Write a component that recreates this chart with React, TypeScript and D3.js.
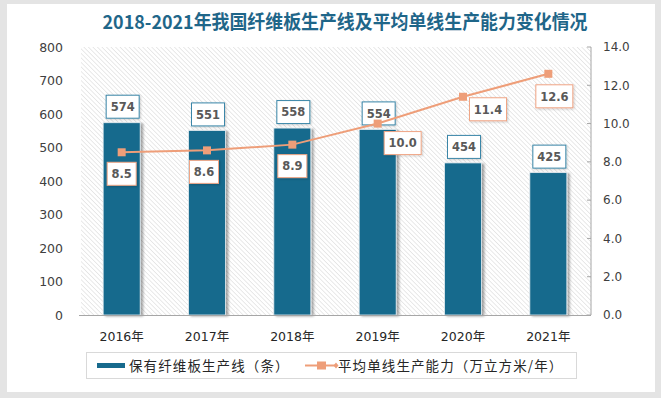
import React, { useEffect } from "react";
import * as d3 from "d3";

const years = ["2016年", "2017年", "2018年", "2019年", "2020年", "2021年"];
const lineCounts = [574, 551, 558, 554, 454, 425];
const avgCapacity = [8.5, 8.6, 8.9, 10.0, 11.4, 12.6];
const leftTicks = [0, 100, 200, 300, 400, 500, 600, 700, 800];
const rightTicks = [0, 2, 4, 6, 8, 10, 12, 14];
const barSeriesName = "保有纤维板生产线（条）";
const lineSeriesName = "平均单线生产能力（万立方米/年）";
const title = "2018-2021年我国纤维板生产线及平均单线生产能力变化情况";

// label placement offsets for the line labels (layout only)
const lineLabelOffsets: [number, number][] = [
  [0, 10], [-3, 10], [0, 10], [25, 8], [25, 1], [6, 11],
];

const W = 661, H = 398;
const M = { left: 79, right: 591, top: 47, bottom: 315 };
const BAR = "#176a8d";
const LINE = "#ee9e79";
const NUMFONT = "'DejaVu Sans', 'Noto Sans CJK SC', sans-serif";
const CJK = "'Noto Sans CJK SC', sans-serif";

export default function App() {
  useEffect(() => {
    document.body.style.margin = "0";
  }, []);

  const x = d3.scaleBand<string>().domain(years).range([M.left, M.right]).paddingInner(0.566).paddingOuter(0.283);
  const yL = d3.scaleLinear().domain([0, 800]).range([M.bottom, M.top]);
  const yR = d3.scaleLinear().domain([0, 14]).range([M.bottom, M.top]);
  const cx = (d: string) => (x(d) as number) + x.bandwidth() / 2;

  const linePath = d3.line<number>().x((_, i) => cx(years[i])).y((v) => yR(v))(avgCapacity) || "";

  return (
    <svg width={W} height={H} style={{ position: "absolute", left: 0, top: 0, display: "block" }}>
      <defs>
        <pattern id="hatch" width="3.2" height="3.2" patternUnits="userSpaceOnUse" patternTransform="rotate(-45)">
          <line x1="0" y1="0" x2="0" y2="3.2" stroke="#d4d4d4" strokeWidth="1" />
        </pattern>
        <filter id="shadow" x="-20%" y="-20%" width="150%" height="150%">
          <feDropShadow dx="2.5" dy="1" stdDeviation="1.2" floodColor="#000" floodOpacity="0.35" />
        </filter>
        <filter id="shadowS" x="-20%" y="-20%" width="150%" height="150%">
          <feDropShadow dx="1" dy="1" stdDeviation="0.8" floodColor="#000" floodOpacity="0.2" />
        </filter>
        <clipPath id="legclip">
          <rect x={86} y={352} width={490} height={27} />
        </clipPath>
      </defs>
      <rect x={0} y={0} width={W} height={H} fill="#e4e4e4" />
      <rect x={7} y={4} width={648} height={388} fill="#ffffff" />

      <text x={345} y={29} textAnchor="middle" fontFamily={CJK} fontWeight="bold" fontSize={19}
        textLength={485} lengthAdjust="spacingAndGlyphs" fill="#1f6689">{title}</text>

      <rect x={M.left + 2} y={M.top} width={M.right - M.left - 2} height={M.bottom - M.top} fill="url(#hatch)" />

      {leftTicks.map((t) => (
        <text key={"l" + t} x={63} y={yL(t)} dy="0.36em" textAnchor="end" fontFamily={NUMFONT} fontSize={12.5} fill="#404040">{t}</text>
      ))}
      {rightTicks.map((t) => (
        <g key={"r" + t}>
          <line x1={M.right - 4} x2={M.right} y1={yR(t)} y2={yR(t)} stroke="#a6a6a6" />
          <text x={603} y={yR(t)} dy="0.36em" fontFamily={NUMFONT} fontSize={12} fill="#404040">{d3.format(".1f")(t)}</text>
        </g>
      ))}
      <line x1={M.right} x2={M.right} y1={M.top} y2={M.bottom} stroke="#a6a6a6" />

      {years.map((yr, i) => (
        <rect key={"b" + yr} x={x(yr)} y={yL(lineCounts[i])} width={x.bandwidth()} height={M.bottom - yL(lineCounts[i])}
          fill={BAR} stroke="#e8eef2" strokeWidth={0.8} filter="url(#shadow)" />
      ))}
      <line x1={M.left} x2={M.right} y1={M.bottom + 0.5} y2={M.bottom + 0.5} stroke="#a6a6a6" />

      {years.map((yr, i) => (
        <text key={"x" + yr} x={cx(yr)} y={336} dy="0.36em" textAnchor="middle" fontFamily={NUMFONT} fontSize={12.5} fill="#262626">{yr}</text>
      ))}

      {years.map((yr, i) => {
        const label = String(lineCounts[i]);
        const w = 33, h = 23;
        const bx = cx(yr) - w / 2 + 1;
        const by = yL(lineCounts[i]) - 4.5 - h;
        return (
          <g key={"bl" + yr}>
            <rect x={bx} y={by} width={w} height={h} fill="#fff" stroke="#3a86a8" strokeWidth={1} filter="url(#shadowS)" />
            <text x={bx + w / 2} y={by + h / 2} dy="0.37em" textAnchor="middle" fontFamily={NUMFONT} fontWeight="bold" fontSize={11.5} fill="#595959">{label}</text>
          </g>
        );
      })}

      <path d={linePath} fill="none" stroke={LINE} strokeWidth={2} />
      {avgCapacity.map((v, i) => (
        <rect key={"m" + i} x={cx(years[i]) - 4} y={yR(v) - 4} width={8} height={8} fill={LINE} />
      ))}

      {avgCapacity.map((v, i) => {
        const label = d3.format(".1f")(v);
        const w = label.length > 3 ? 37 : 29, h = 23;
        const [dx, dy] = lineLabelOffsets[i];
        const bx = cx(years[i]) + dx - w / 2;
        const by = yR(v) + dy;
        return (
          <g key={"ll" + i}>
            <rect x={bx} y={by} width={w} height={h} fill="#fff" stroke="#f0a585" strokeWidth={1} filter="url(#shadowS)" />
            <text x={bx + w / 2} y={by + h / 2} dy="0.37em" textAnchor="middle" fontFamily={NUMFONT} fontWeight="bold" fontSize={11.5} fill="#595959">{label}</text>
          </g>
        );
      })}

      <rect x={86.5} y={352.5} width={490} height={26} fill="#fff" stroke="#d9d9d9" />
      <g clipPath="url(#legclip)">
        <rect x={97} y={363} width={28} height={5} fill={BAR} />
        <text x={129} y={366} dy="0.36em" fontFamily={CJK} fontSize={13.5} letterSpacing={1.1} fill="#262626">{barSeriesName}</text>
        <line x1={305} x2={336} y1={365.5} y2={365.5} stroke={LINE} strokeWidth={2} />
        <rect x={317} y={361.5} width={9} height={8} fill={LINE} />
        <path d="M336,362.5 L338.5,365.5 L336,368.5 L333.5,365.5 Z" fill={LINE} />
        <text x={338} y={366} dy="0.36em" fontFamily={CJK} fontSize={13.5} letterSpacing={1.1} fill="#262626">{lineSeriesName}</text>
      </g>
    </svg>
  );
}
